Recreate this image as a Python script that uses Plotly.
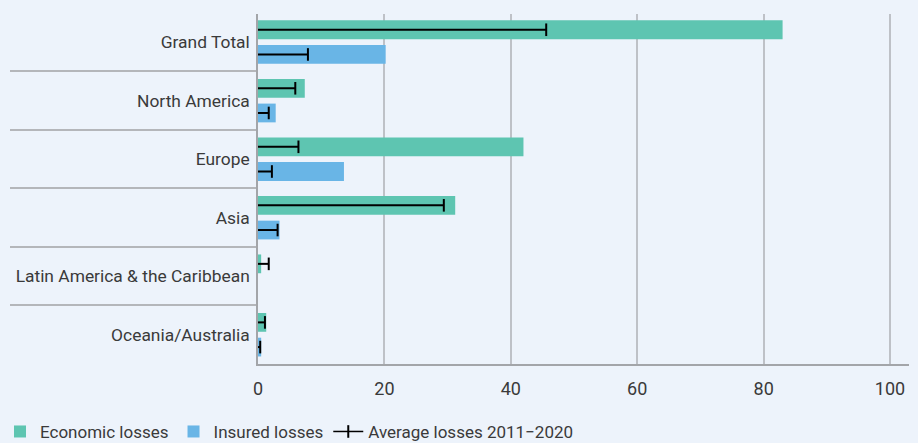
import plotly.graph_objects as go

regions = ["Grand Total", "North America", "Europe", "Asia",
           "Latin America & the Caribbean", "Oceania/Australia"]
economic = [83.0, 7.4, 42.0, 31.2, 0.5, 1.3]
insured = [20.2, 2.8, 13.6, 3.4, 0.0, 0.5]
avg_economic = [45.6, 5.9, 6.4, 29.4, 1.7, 1.1]
avg_insured = [7.9, 1.7, 2.2, 3.1, None, 0.35]
x_ticks = [0, 20, 40, 60, 80, 100]

TEAL = "#5EC5B1"
BLUE = "#69B5E6"
BG = "#EDF3FB"
TXT = "#3A3A3A"
FONT = "Roboto, Liberation Sans, sans-serif"

fig = go.Figure()
fig.add_trace(go.Bar(y=regions, x=economic, orientation="h", name="Economic losses",
                     marker=dict(color=TEAL, line=dict(width=0)), offsetgroup="econ"))
fig.add_trace(go.Bar(y=regions, x=insured, orientation="h", name="Insured losses",
                     marker=dict(color=BLUE, line=dict(width=0)), offsetgroup="ins"))


def avg_trace(vals, grp):
    ys = [r for r, v in zip(regions, vals) if v is not None]
    xs = [v for v in vals if v is not None]
    return go.Scatter(
        y=ys, x=xs, mode="markers", orientation="h", offsetgroup=grp,
        showlegend=False,
        marker=dict(symbol="line-ns-open", size=9, color="black",
                    line=dict(width=2, color="black")),
        error_x=dict(type="data", symmetric=False, array=[0] * len(xs),
                     arrayminus=xs, width=0, thickness=2, color="black"),
        hoverinfo="skip")


fig.add_trace(avg_trace(avg_economic, "econ"))
fig.add_trace(avg_trace(avg_insured, "ins"))
fig.add_trace(go.Scatter(x=[None], y=[None], mode="lines+markers",
                         name="Average losses 2011\u22122020",
                         line=dict(color="black", width=1.5),
                         marker=dict(symbol="line-ns-open", size=9,
                                     line=dict(width=2, color="black"))))

fig.update_layout(
    width=918, height=443,
    paper_bgcolor=BG, plot_bgcolor=BG,
    margin=dict(l=258, r=9, t=14, b=79),
    barmode="group", bargap=0.156, bargroupgap=0.24,
    scattermode="group", scattergap=0.156,
    font=dict(family=FONT, color=TXT, size=16),
    legend=dict(orientation="h", xref="container", yref="container",
                x=0.0, y=0.025, xanchor="left", yanchor="middle",
                font=dict(size=17, family=FONT, color=TXT),
                itemwidth=30, traceorder="normal", bgcolor="rgba(0,0,0,0)"),
    showlegend=True,
)
fig.update_xaxes(range=[0, 103], tickvals=x_ticks, showgrid=True,
                 gridcolor="#BEC1C7", gridwidth=1.5, zeroline=False,
                 showline=True, linecolor="#A3A5A9", linewidth=1.5,
                 ticks="", tickfont=dict(size=18, family=FONT, color=TXT),
                 ticklabelstandoff=8, fixedrange=True)
fig.update_yaxes(range=[5.5, -0.48], showgrid=False, zeroline=False,
                 showline=True, linecolor="#A3A5A9", linewidth=1.5,
                 ticks="outside", tickson="boundaries", ticklen=246,
                 tickcolor="#B4B6BA", tickwidth=1.5,
                 tickfont=dict(size=17.4, family=FONT, color=TXT),
                 ticklabelstandoff=3, fixedrange=True)

fig.write_html("out.html", config={"displayModeBar": False},
               post_script="document.body.style.margin='0';")
